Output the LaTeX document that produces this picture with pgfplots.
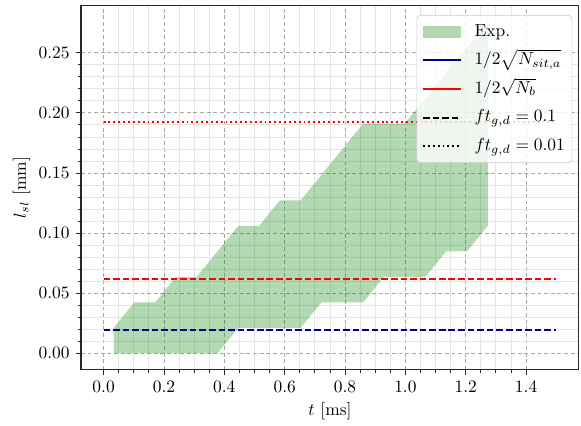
\documentclass[border=0pt]{standalone}
\usepackage{pgfplots}
\pgfplotsset{compat=1.18}
\definecolor{mpldarkblue}{RGB}{0,0,139}
\definecolor{mplgreen}{RGB}{0,128,0}
\definecolor{spine}{RGB}{40,40,40}
\pgfplotsset{
  mylegline/.style={legend image code/.code={\draw[sharp corners, ##1] (0pt,0pt) -- (22pt,0pt);}},
  mylegarea/.style={legend image code/.code={\path[sharp corners, draw=none, fill=mplgreen, fill opacity=0.3] (0pt,-3.6pt) rectangle (22pt,3.6pt);}},
}
\begin{document}
\begin{tikzpicture}
\begin{axis}[
  scale only axis,
  width=285.9pt, height=209.5pt,
  xmin=-0.075, xmax=1.575,
  ymin=-0.0138, ymax=0.2897,
  xtick={0,0.2,0.4,0.6,0.8,1.0,1.2,1.4},
  ytick={0,0.05,0.10,0.15,0.20,0.25},
  minor x tick num=3,
  minor y tick num=4,
  xticklabel style={/pgf/number format/.cd, fixed, fixed zerofill, precision=1},
  yticklabel style={/pgf/number format/.cd, fixed, fixed zerofill, precision=2},
  scaled y ticks=false,
  grid=both,
  major grid style={dashed, dash pattern=on 2.2pt off 1.6pt, black!35, line width=0.5pt},
  minor grid style={black!10, line width=0.5pt},
  tick align=outside,
  xtick pos=bottom, ytick pos=left,
  major tick length=3pt,
  minor tick length=1.7pt,
  tick style={spine, line width=0.5pt},
  axis line style={spine, line width=0.6pt},
  xlabel={$t$ [ms]},
  ylabel={$l_{sl}$ [mm]},
  xlabel style={yshift=1pt},
  ylabel style={yshift=-2pt},
  legend style={at={(1,1)}, anchor=north east, xshift=-3.85pt, yshift=-5.7pt,
    draw=black!20, fill=white, fill opacity=0.8, text opacity=1, draw opacity=1,
    rounded corners=2pt, inner sep=3pt, row sep=3.4pt, column sep=6pt,
    nodes={inner sep=1pt, text height=8pt, text depth=3pt}},
  legend cell align=left,
]
% Experimental band (upper boundary forward, lower boundary backward)
\addplot[fill=mplgreen, fill opacity=0.3, draw=none, forget plot] coordinates {
  (0.0330,0.0212) (0.1019,0.0424) (0.1708,0.0424) (0.2397,0.0637) (0.3086,0.0637)
  (0.3775,0.0849) (0.4464,0.1061) (0.5153,0.1061) (0.5842,0.1273) (0.6531,0.1273)
  (0.7220,0.1485) (0.7909,0.1698) (0.8598,0.1910) (0.9287,0.1910) (0.9976,0.1910)
  (1.0665,0.2122) (1.1354,0.2334) (1.2043,0.2546) (1.2732,0.2759)
  (1.2732,0.1061) (1.2043,0.0849) (1.1354,0.0849) (1.0665,0.0637) (0.9976,0.0637)
  (0.9287,0.0637) (0.8598,0.0424) (0.7909,0.0424) (0.7220,0.0424) (0.6531,0.0212)
  (0.5842,0.0212) (0.5153,0.0212) (0.4464,0.0212) (0.3775,0) (0.3086,0)
  (0.2397,0) (0.1708,0) (0.1019,0) (0.0330,0)
} -- cycle;
% Horizontal reference lines
\addplot[mpldarkblue, line width=1.1pt, dash pattern=on 3.8pt off 1.7pt, forget plot] coordinates {(0,0.0197) (1.5,0.0197)};
\addplot[red, line width=1.1pt, dash pattern=on 3.8pt off 1.7pt, forget plot] coordinates {(0,0.0619) (1.5,0.0619)};
\addplot[red, line width=1.1pt, dash pattern=on 1.1pt off 1.7pt, forget plot] coordinates {(0,0.1924) (1.5,0.1924)};
% Legend
\addlegendimage{mylegarea}
\addlegendentry{Exp.}
\addlegendimage{mylegline, mpldarkblue, line width=1.1pt}
\addlegendentry{$1/2\sqrt{N_{sit,a}}$}
\addlegendimage{mylegline, red, line width=1.1pt}
\addlegendentry{$1/2\sqrt{N_b}$}
\addlegendimage{mylegline, black, line width=1.1pt, dash pattern=on 3.8pt off 1.7pt}
\addlegendentry{$ft_{g,d}=0.1$}
\addlegendimage{mylegline, black, line width=1.1pt, dash pattern=on 1.1pt off 1.7pt}
\addlegendentry{$ft_{g,d}=0.01$}
\end{axis}
\pgfresetboundingbox
\useasboundingbox (current axis.south west) ++(-46.5pt,-32.1pt) rectangle ([xshift=1.2pt,yshift=2.9pt]current axis.north east);
\end{tikzpicture}
\end{document}
